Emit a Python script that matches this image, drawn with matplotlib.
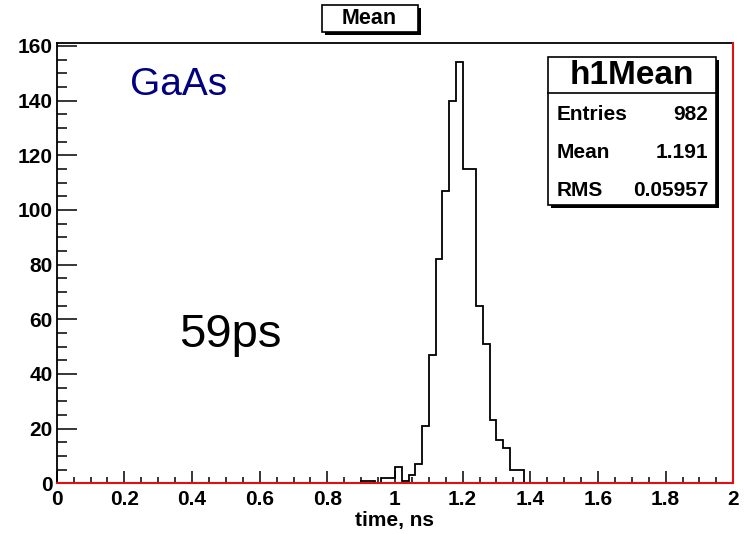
import numpy as np
import matplotlib
matplotlib.use('Agg')
from matplotlib import pyplot as plt
from matplotlib.patches import Rectangle

plt.rcParams['font.family'] = ['Liberation Sans', 'DejaVu Sans']

# histogram h1Mean: 0.02 ns bins, only the filled range is listed
bin_lo = [0.90, 0.92, 0.94, 0.96, 0.98, 1.00, 1.02, 1.04, 1.06, 1.08,
          1.10, 1.12, 1.14, 1.16, 1.18, 1.20, 1.22, 1.24, 1.26, 1.28,
          1.30, 1.32, 1.34, 1.36]
counts = [1, 1, 0, 2, 2, 6, 1, 3, 7, 21,
          47, 82, 107, 140, 154, 115, 115, 65, 51, 23,
          16, 13, 5, 5]
bin_width = 0.02

x_ticks = [0, 0.2, 0.4, 0.6, 0.8, 1.0, 1.2, 1.4, 1.6, 1.8, 2.0]
x_labels = ['0', '0.2', '0.4', '0.6', '0.8', '1', '1.2', '1.4', '1.6', '1.8', '2']
y_ticks = [0, 20, 40, 60, 80, 100, 120, 140, 160]

stat_names = ['Entries', 'Mean', 'RMS']
stat_values = ['982', '1.191', '0.05957']

W, H = 747, 534
fig = plt.figure(figsize=(W / 100, H / 100), dpi=100)

def fx(px):
    return px / W

def fy(py):
    return 1 - py / H

x0, x1 = 56.7, 733.3
y0, y1 = 483.3, 42.7
ax = fig.add_axes([fx(x0), fy(y0), fx(x1) - fx(x0), fy(y1) - fy(y0)])

edges = np.append(np.array(bin_lo), bin_lo[-1] + bin_width)
ax.stairs(counts, edges, color='black', lw=1.3, baseline=0)

ax.set_xlim(0, 2)
ax.set_ylim(0, 161.2)

for side in ['left', 'top']:
    ax.spines[side].set_color('black')
    ax.spines[side].set_linewidth(1.3)
for side in ['bottom', 'right']:
    ax.spines[side].set_color('#e01010')
    ax.spines[side].set_linewidth(1.5)
    ax.spines[side].set_zorder(5)

ax.set_xticks(x_ticks)
ax.set_xticklabels(x_labels)
ax.set_xticks(np.arange(0, 2.001, 0.05), minor=True)
ax.set_yticks(y_ticks)
ax.set_yticks(np.arange(0, 161, 5), minor=True)

ax.tick_params(axis='x', which='major', direction='in', length=8.5, width=1.1,
               pad=5, labelsize=15, color='black')
ax.tick_params(axis='x', which='minor', direction='in', length=4.3, width=1.1,
               color='black')
ax.tick_params(axis='y', which='major', direction='in', length=14.4, width=1.1,
               pad=3, labelsize=15, color='black')
ax.tick_params(axis='y', which='minor', direction='in', length=7.2, width=1.1,
               color='black')
for lab in ax.get_xticklabels() + ax.get_yticklabels():
    lab.set_fontweight('bold')

ax.set_xlabel('time, ns', fontsize=15, fontweight='bold', labelpad=1)

# free text on the pad
ax.text(fx(130), fy(95), 'GaAs', transform=fig.transFigure, fontsize=28,
        color='#000080', ha='left', va='baseline')
ax.text(fx(179), fy(347), '59ps', transform=fig.transFigure, fontsize=34,
        color='black', ha='left', va='baseline')

def shadow_box(left, top, right, bottom, shadow=3):
    fig.patches.append(Rectangle((fx(left + shadow), fy(bottom + shadow)),
                                 fx(right - left), fy(top) - fy(bottom),
                                 transform=fig.transFigure, facecolor='black',
                                 edgecolor='none', zorder=3))
    fig.patches.append(Rectangle((fx(left), fy(bottom)),
                                 fx(right - left), fy(top) - fy(bottom),
                                 transform=fig.transFigure, facecolor='white',
                                 edgecolor='black', lw=1.2, zorder=4))

# title box
shadow_box(321.7, 5, 418.3, 31.7)
fig.text(fx(369), fy(19), 'Mean', fontsize=15.5, fontweight='bold',
         ha='center', va='center', zorder=6)

# stats box
shadow_box(548, 56.7, 715.7, 205)
fig.lines.append(plt.Line2D([fx(548), fx(715.7)], [fy(93), fy(93)],
                            transform=fig.transFigure, color='black', lw=1.2,
                            zorder=5))
fig.text(fx(632), fy(75), 'h1Mean', fontsize=24, fontweight='bold',
         ha='center', va='center', zorder=6)
row_y = [115, 153, 190]
for name, val, ry in zip(stat_names, stat_values, row_y):
    fig.text(fx(557), fy(ry), name, fontsize=15, fontweight='bold',
             ha='left', va='center', zorder=6)
    fig.text(fx(708), fy(ry), val, fontsize=15, fontweight='bold',
             ha='right', va='center', zorder=6)

fig.savefig('out.png', dpi=100)
